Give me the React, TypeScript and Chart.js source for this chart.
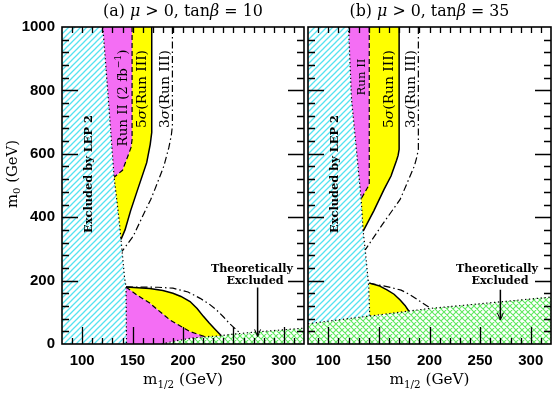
import React, { useEffect, useRef } from "react";
import { Chart, registerables } from "chart.js";
Chart.register(...registerables);

// ---------- axes ----------
const X_MIN = 80;
const X_MAX = 320;
const Y_MIN = 0;
const Y_MAX = 1000;
const X_TICKS = [100, 150, 200, 250, 300];
const Y_TICKS = [0, 200, 400, 600, 800, 1000];

// ---------- panel (a): mu > 0, tan beta = 10 ----------
const A_LEP_M12 = [120.5, 126, 131.7, 134.3, 137, 139.5, 142, 143.5, 144];
const A_LEP_M0 = [1000, 772, 526, 456, 380, 297, 210, 180, 0];
const A_RUN2_M12 = [149.5, 149.5, 148.5, 145, 140, 131.7];
const A_RUN2_M0 = [1000, 645, 620, 590, 548, 526];
const A_SIG5_M12 = [169, 169, 167.5, 164, 155, 148, 142.5, 138.5];
const A_SIG5_M0 = [1000, 667, 630, 572, 487, 420, 360, 330];
const A_SIG3_M12 = [189.5, 189.5, 188.5, 186, 181, 172, 168, 161, 150.6, 139.5];
const A_SIG3_M0 = [1000, 690, 660, 620, 561, 487, 456, 410, 340, 292];
const A_RUN2LO_M12 = [143.5, 155, 167, 187, 207, 222];
const A_RUN2LO_M0 = [180, 153, 129, 76, 39, 23];
const A_SIG5LO_M12 = [143.5, 167, 180, 190, 198, 207, 214, 220, 226, 232, 238];
const A_SIG5LO_M0 = [180, 175, 169, 160, 150, 134, 112, 88, 66, 46, 26];
const A_SIG3LO_M12 = [143.5, 175, 190, 205, 217, 226, 233, 240, 246, 256];
const A_SIG3LO_M0 = [180, 179, 176, 164, 144, 126, 108, 86, 65, 36];
const A_THEO_M12 = [179, 190, 207, 222, 238, 246, 273, 320];
const A_THEO_M0 = [0, 8, 18, 23, 26, 30, 38, 50];
const A_ARROW_M12 = [274, 274];
const A_ARROW_M0 = [178, 24];

// ---------- panel (b): mu > 0, tan beta = 35 ----------
const B_LEP_M12 = [120, 123, 132.5, 134.5, 136.5, 140, 141];
const B_LEP_M0 = [1000, 772, 458, 356, 297, 181, 89];
const B_RUN2_M12 = [140.5, 140.5, 132.5];
const B_RUN2_M0 = [1000, 503, 458];
const B_SIG5_M12 = [170, 170, 169, 167.5, 162, 155, 145, 134.5];
const B_SIG5_M0 = [1000, 614, 595, 580, 530, 487, 420, 356];
const B_SIG3_M12 = [189, 189, 187.5, 185, 171, 153, 136.5];
const B_SIG3_M0 = [1000, 614, 590, 561, 456, 375, 297];
const B_SIG5LO_M12 = [140.5, 150, 158, 165, 171, 176, 179.5];
const B_SIG5LO_M0 = [192, 184, 171, 157, 139, 121, 104];
const B_SIG3LO_M12 = [140.5, 158, 172, 181, 191, 201];
const B_SIG3LO_M0 = [192, 181, 170, 155, 134, 113];
const B_THEO_M12 = [80, 140, 200, 320];
const B_THEO_M0 = [64, 88, 112, 148];
const B_ARROW_M12 = [270, 270];
const B_ARROW_M0 = [171, 76];

type Pt = { x: number; y: number };
const P = (xs: number[], ys: number[]): Pt[] => xs.map((x, i) => ({ x, y: ys[i] }));
const rev = (a: Pt[]) => [...a].reverse();

const MAGENTA = "#f46ef4";
const YELLOW = "#ffff00";
const SERIF = '"DejaVu Serif", serif';
const SANS = '"Liberation Sans", Arial, sans-serif';

function hatch(color: string, cross: boolean): CanvasPattern | string {
  const c = document.createElement("canvas");
  c.width = 6;
  c.height = 6;
  const g = c.getContext("2d");
  if (!g) return color;
  g.strokeStyle = color;
  g.lineWidth = cross ? 1.1 : 1.3;
  g.beginPath();
  for (const k of [-6, 0, 6]) {
    g.moveTo(-1 + k, 7);
    g.lineTo(7 + k, -1);
    if (cross) {
      g.moveTo(-1 + k, -1);
      g.lineTo(7 + k, 7);
    }
  }
  g.stroke();
  return g.createPattern(c, "repeat") || color;
}

type Part = { t: string; it?: boolean; sub?: boolean; sup?: boolean };
function drawRich(
  ctx: CanvasRenderingContext2D,
  parts: Part[],
  cx: number,
  cy: number,
  o: { size: number; weight?: string; family?: string; rotate?: boolean; width?: number }
) {
  const w = o.weight || "normal";
  const fam = o.family || SERIF;
  const font = (p: Part, s: number) =>
    `${p.it ? "italic " : ""}${w} ${p.sub || p.sup ? s * 0.68 : s}px ${fam}`;
  const measure = (s: number) =>
    parts.reduce((acc, p) => {
      ctx.font = font(p, s);
      return acc + ctx.measureText(p.t).width;
    }, 0);
  let s = o.size;
  if (o.width) s = (s * o.width) / measure(s);
  const total = measure(s);
  ctx.save();
  ctx.translate(cx, cy);
  if (o.rotate) ctx.rotate(-Math.PI / 2);
  ctx.fillStyle = "#000";
  ctx.textBaseline = "middle";
  ctx.textAlign = "left";
  let x = -total / 2;
  for (const p of parts) {
    ctx.font = font(p, s);
    const dy = p.sub ? s * 0.32 : p.sup ? -s * 0.35 : 0;
    ctx.fillText(p.t, x, dy);
    x += ctx.measureText(p.t).width;
  }
  ctx.restore();
}

function decor(panel: "a" | "b") {
  return {
    id: "decor" + panel,
    afterDatasetsDraw(chart: any) {
      const ctx: CanvasRenderingContext2D = chart.ctx;
      const xs = chart.scales.x;
      const ys = chart.scales.y;
      const { left, right, top, bottom } = chart.chartArea;
      ctx.save();
      ctx.strokeStyle = "#000";
      ctx.lineWidth = 1.3;
      ctx.setLineDash([]);
      ctx.beginPath();
      for (let v = X_MIN + 10; v < X_MAX; v += 10) {
        const px = Math.round(xs.getPixelForValue(v)) + 0.5;
        const major = v % 50 === 0;
        ctx.moveTo(px, bottom);
        ctx.lineTo(px, bottom - (major ? 17 : 6));
        ctx.moveTo(px, top);
        ctx.lineTo(px, top + 6);
      }
      for (let v = Y_MIN + 40; v < Y_MAX; v += 40) {
        const py = Math.round(ys.getPixelForValue(v)) + 0.5;
        const major = v % 200 === 0;
        const len = major ? 16 : 7;
        ctx.moveTo(left, py);
        ctx.lineTo(left + len, py);
        ctx.moveTo(right, py);
        ctx.lineTo(right - len, py);
      }
      ctx.stroke();
      ctx.lineWidth = 1.6;
      ctx.strokeRect(left, top, right - left, bottom - top);

      // arrow heads
      const am12 = panel === "a" ? A_ARROW_M12 : B_ARROW_M12;
      const am0 = panel === "a" ? A_ARROW_M0 : B_ARROW_M0;
      const ax = xs.getPixelForValue(am12[1]);
      const ay = ys.getPixelForValue(am0[1]);
      ctx.lineWidth = 1;
      ctx.beginPath();
      ctx.moveTo(ax - 3, ay - 7);
      ctx.lineTo(ax, ay);
      ctx.lineTo(ax + 3, ay - 7);
      ctx.stroke();
      ctx.restore();

      const cx = (left + right) / 2;
      const tParts: Part[] = [
        { t: panel === "a" ? "(a) " : "(b) " },
        { t: "μ", it: true },
        { t: " > 0, tan" },
        { t: "β", it: true },
        { t: panel === "a" ? " = 10" : " = 35" },
      ];
      drawRich(ctx, tParts, cx, 12, { size: 14, width: 160 });
      drawRich(ctx, [{ t: "m" }, { t: "1/2", sub: true }, { t: " (GeV)" }], cx, 380, {
        size: 14,
        width: 80,
      });
      if (panel === "a") {
        drawRich(ctx, [{ t: "m" }, { t: "0", sub: true }, { t: " (GeV)" }], 13, 174, {
          size: 14,
          width: 68,
          rotate: true,
        });
      }
      const isA = panel === "a";
      drawRich(ctx, [{ t: "Excluded by LEP 2" }], isA ? 89 : 335, 174, {
        size: 12,
        weight: "bold",
        rotate: true,
        width: 118,
      });
      if (isA) {
        drawRich(
          ctx,
          [{ t: "Run II (2 fb" }, { t: "−1", sup: true }, { t: ")" }],
          123,
          98,
          { size: 13, rotate: true, width: 97 }
        );
      } else {
        drawRich(ctx, [{ t: "Run II" }], 362, 77, { size: 13, rotate: true, width: 37 });
      }
      const s5: Part[] = [{ t: "5" }, { t: "σ", it: true }, { t: "(Run III)" }];
      const s3: Part[] = [{ t: "3" }, { t: "σ", it: true }, { t: "(Run III)" }];
      drawRich(ctx, s5, isA ? 142 : 389, 89, { size: 13, rotate: true, width: 78 });
      drawRich(ctx, s3, isA ? 165 : 411.5, 89, { size: 13, rotate: true, width: 78 });
      const tx = isA ? 252 : 497;
      drawRich(ctx, [{ t: "Theoretically" }], tx, 269, { size: 12, weight: "bold", width: 82 });
      drawRich(ctx, [{ t: "Excluded" }], tx + 3, 281, { size: 11.2, weight: "bold" });
    },
  };
}

function fillDs(data: Pt[], color: any, order = 10) {
  return {
    data,
    showLine: true,
    fill: "shape",
    backgroundColor: color,
    borderColor: "rgba(0,0,0,0)",
    borderWidth: 1,
    pointRadius: 0,
    tension: 0,
    order,
  };
}
function lineDs(data: Pt[], style: "solid" | "dash" | "dot" | "dashdot", width = 1.2) {
  const dash =
    style === "dash" ? [5, 3] : style === "dot" ? [1.3, 2.6] : style === "dashdot" ? [7, 3, 1.5, 3] : [];
  return {
    data,
    showLine: true,
    fill: false,
    borderColor: "#000",
    borderWidth: style === "solid" ? 1.5 : width,
    borderDash: dash,
    pointRadius: 0,
    tension: 0,
    order: 1,
  };
}

function datasetsA(cyan: any, green: any) {
  const L = P(A_LEP_M12, A_LEP_M0);
  const run2 = P(A_RUN2_M12, A_RUN2_M0);
  const sig5 = P(A_SIG5_M12, A_SIG5_M0);
  const sig3 = P(A_SIG3_M12, A_SIG3_M0);
  const run2lo = P(A_RUN2LO_M12, A_RUN2LO_M0);
  const sig5lo = P(A_SIG5LO_M12, A_SIG5LO_M0);
  const sig3lo = P(A_SIG3LO_M12, A_SIG3LO_M0);
  const theo = P(A_THEO_M12, A_THEO_M0);
  return [
    fillDs([{ x: X_MIN, y: Y_MIN }, { x: X_MIN, y: Y_MAX }, ...L], cyan),
    fillDs([...run2, ...rev(L.slice(0, 2))], MAGENTA),
    fillDs([...sig5, ...rev(L.slice(2, 5)), ...rev(run2)], YELLOW),
    fillDs([...run2lo, ...rev(theo.slice(0, 3)), { x: L[L.length - 1].x, y: Y_MIN }], MAGENTA),
    fillDs([...sig5lo, ...rev(run2lo)], YELLOW),
    fillDs([...theo, { x: X_MAX, y: Y_MIN }], green),
    lineDs(L, "dot"),
    lineDs(run2, "dash"),
    lineDs(sig5, "solid"),
    lineDs(sig3, "dashdot"),
    lineDs(run2lo, "dash"),
    lineDs(sig5lo, "solid"),
    lineDs(sig3lo, "dashdot"),
    lineDs(theo, "dot"),
    lineDs(P(A_ARROW_M12, A_ARROW_M0), "solid", 1),
  ];
}

function datasetsB(cyan: any, green: any) {
  const L = P(B_LEP_M12, B_LEP_M0);
  const run2 = P(B_RUN2_M12, B_RUN2_M0);
  const sig5 = P(B_SIG5_M12, B_SIG5_M0);
  const sig3 = P(B_SIG3_M12, B_SIG3_M0);
  const sig5lo = P(B_SIG5LO_M12, B_SIG5LO_M0);
  const sig3lo = P(B_SIG3LO_M12, B_SIG3LO_M0);
  const theo = P(B_THEO_M12, B_THEO_M0);
  return [
    fillDs([theo[0], { x: X_MIN, y: Y_MAX }, ...L], cyan),
    fillDs([...run2, ...rev(L.slice(0, 2))], MAGENTA),
    fillDs([...sig5, ...rev(L.slice(2, 4)), ...rev(run2)], YELLOW),
    fillDs([...sig5lo, L[L.length - 1]], YELLOW),
    fillDs([...theo, { x: X_MAX, y: Y_MIN }, { x: X_MIN, y: Y_MIN }], green),
    lineDs(L, "dot"),
    lineDs(run2, "dash"),
    lineDs(sig5, "solid"),
    lineDs(sig3, "dashdot"),
    lineDs(sig5lo, "solid"),
    lineDs(sig3lo, "dashdot"),
    lineDs(theo, "dot"),
    lineDs(P(B_ARROW_M12, B_ARROW_M0), "solid", 1),
  ];
}

function makeChart(canvas: HTMLCanvasElement, panel: "a" | "b") {
  const isA = panel === "a";
  const cyan = hatch("#55e2f0", false);
  const green = hatch("#5fe85f", true);
  const tickFont = { family: SANS, size: 15, weight: "bold" };
  return new Chart(canvas, {
    type: "scatter",
    data: { datasets: (isA ? datasetsA(cyan, green) : datasetsB(cyan, green)) as any },
    options: {
      responsive: false,
      animation: false,
      events: [],
      layout: {
        padding: isA
          ? { left: 0, right: 250, top: 27, bottom: 0 }
          : { left: 308, right: 3, top: 27, bottom: 0 },
      },
      plugins: { legend: { display: false }, tooltip: { enabled: false } },
      scales: {
        x: {
          type: "linear",
          min: X_MIN,
          max: X_MAX,
          position: "bottom",
          grid: { display: false, drawTicks: false },
          border: { display: false },
          ticks: {
            font: tickFont,
            color: "#000",
            padding: 8,
            maxRotation: 0,
            callback: (v: any) => String(v),
          },
          afterBuildTicks: (s: any) => {
            s.ticks = X_TICKS.map((v) => ({ value: v }));
          },
          afterFit: (s: any) => {
            s.height = 52;
          },
        },
        y: {
          type: "linear",
          min: Y_MIN,
          max: Y_MAX,
          display: isA,
          position: "left",
          grid: { display: false, drawTicks: false },
          border: { display: false },
          ticks: { font: tickFont, color: "#000", padding: 7, callback: (v: any) => String(v) },
          afterBuildTicks: (s: any) => {
            s.ticks = Y_TICKS.map((v) => ({ value: v }));
          },
          afterFit: (s: any) => {
            s.width = isA ? 62 : 0;
          },
        },
      },
    } as any,
    plugins: [decor(panel)],
  });
}

export default function App() {
  const refA = useRef<HTMLCanvasElement | null>(null);
  const refB = useRef<HTMLCanvasElement | null>(null);
  useEffect(() => {
    if (!refA.current || !refB.current) return;
    const a = makeChart(refA.current, "a");
    const b = makeChart(refB.current, "b");
    return () => {
      a.destroy();
      b.destroy();
    };
  }, []);
  const st: React.CSSProperties = { position: "absolute", left: 0, top: 0 };
  return (
    <div style={{ position: "absolute", left: 0, top: 0, width: 554, height: 396, background: "#fff" }}>
      <canvas ref={refA} width={554} height={396} style={st} />
      <canvas ref={refB} width={554} height={396} style={st} />
    </div>
  );
}
